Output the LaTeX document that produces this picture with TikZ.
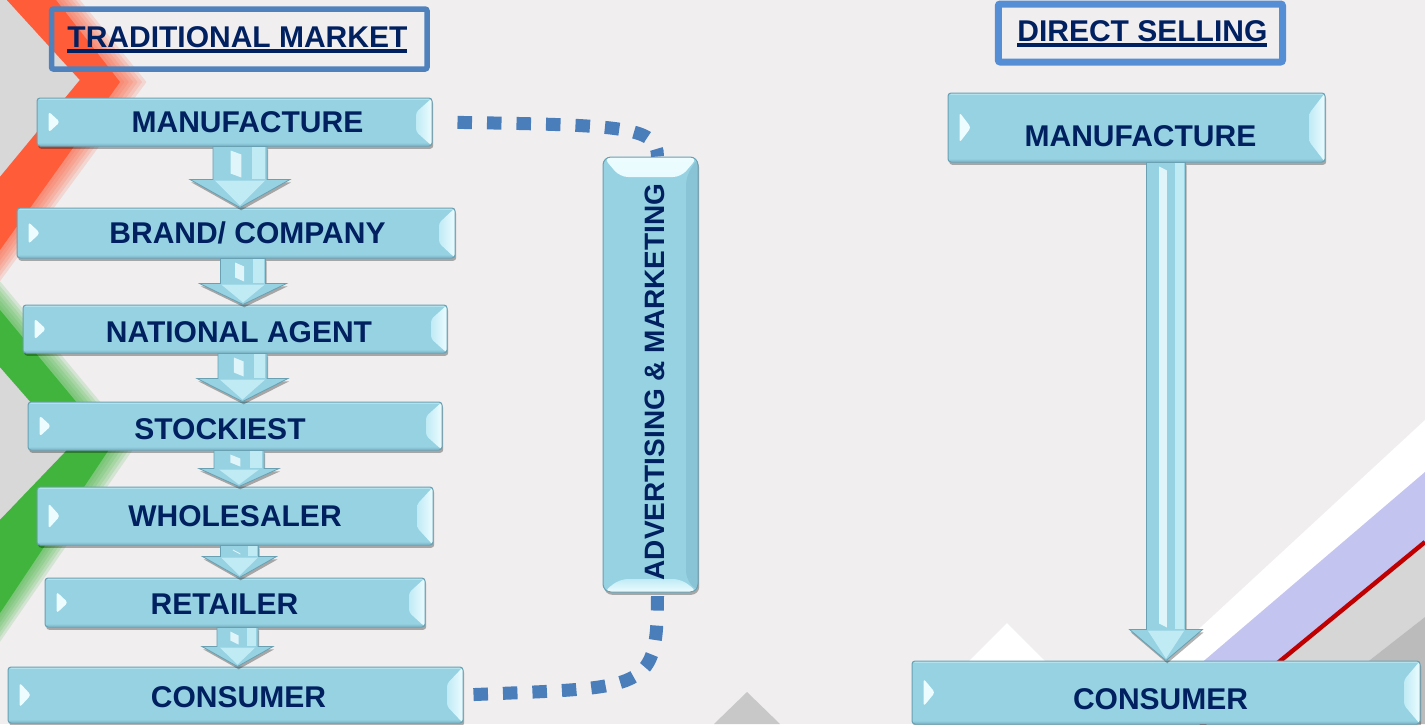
\documentclass[tikz,border=0pt]{standalone}
\usepackage{fontspec}
\setmainfont{Liberation Sans}
\usetikzlibrary{calc,shadows}
\definecolor{bgc}{RGB}{240,238,239}
\definecolor{boxfill}{RGB}{150,210,226}
\definecolor{boxedge}{RGB}{105,160,178}
\definecolor{boxhi}{RGB}{236,252,255}
\definecolor{boxbevel}{RGB}{192,235,245}
\definecolor{boxside}{RGB}{136,196,213}
\definecolor{navy}{RGB}{0,32,96}
\definecolor{dotblue}{RGB}{74,126,187}
\definecolor{titleL}{RGB}{79,129,189}
\definecolor{titleR}{RGB}{85,142,213}
\definecolor{orangeC}{RGB}{255,92,58}
\definecolor{greenC}{RGB}{64,180,60}
\definecolor{wedgegray}{RGB}{216,216,216}
\definecolor{lav}{RGB}{196,196,240}
\definecolor{redline}{RGB}{192,0,0}
\definecolor{lgray}{RGB}{214,214,214}
\definecolor{dgray}{RGB}{187,187,187}
\definecolor{midgray}{RGB}{200,200,200}
\newcommand\bx[3]{\hspace*{#1}\raisebox{#2}{#3}\hspace*{-#1}}
\newcommand\ulin[1]{\setbox0=\hbox{#1}\rlap{\copy0}\rule[-2.4pt]{\wd0}{1.7pt}}
\tikzset{
  myshadow/.style={drop shadow={shadow xshift=0.6pt, shadow yshift=-1.4pt, opacity=0.3, fill=black}},
  flowbox/.style={draw=boxedge, line width=0.5pt, fill=boxfill, rounded corners=1.5pt,
    text=navy, font=\bfseries\fontsize{15}{18}\selectfont, text height=10.74pt, text depth=0pt,
    inner sep=0pt, myshadow,
    path picture={
      \fill[boxhi] let \p1=(path picture bounding box.south west), \p2=(path picture bounding box.north east) in
        (\x1+5.75pt,{(\y1+\y2)/2+0.22*(\y2-\y1)}) -- (\x1+11.5pt,{(\y1+\y2)/2}) -- (\x1+5.75pt,{(\y1+\y2)/2-0.22*(\y2-\y1)}) -- cycle;
      \shade[left color=boxbevel, right color=boxhi] let \p1=(path picture bounding box.south west), \p2=(path picture bounding box.north east) in
        (\x2,\y2) -- (\x2,\y1) -- (\x2-8pt,{\y1+0.3*(\y2-\y1)}) -- (\x2-8pt,{\y2-0.3*(\y2-\y1)}) -- cycle;
      \fill[boxside] let \p1=(path picture bounding box.south west), \p2=(path picture bounding box.north east) in
        (\x1,\y1) rectangle (\x2,\y1+1.2pt);
      \fill[boxbevel] let \p1=(path picture bounding box.south west), \p2=(path picture bounding box.north east) in
        (\x1,\y2-0.8pt) rectangle (\x2,\y2);
    }},
  advbox/.style={draw=boxedge, line width=0.5pt, fill=boxfill, rounded corners=4pt,
    text=navy, font=\bfseries\fontsize{14}{16}\selectfont, inner sep=0pt, myshadow,
    path picture={
      \shade[top color=boxhi, bottom color=boxbevel] let \p1=(path picture bounding box.south west), \p2=(path picture bounding box.north east) in
        (\x1,\y2) -- (\x2,\y2) -- (\x2-8.5pt,\y2-10pt) -- (\x1+8.5pt,\y2-10pt) -- cycle;
      \shade[top color=boxbevel, bottom color=boxhi] let \p1=(path picture bounding box.south west), \p2=(path picture bounding box.north east) in
        (\x1,\y1) -- (\x2,\y1) -- (\x2-8.5pt,\y1+6.5pt) -- (\x1+8.5pt,\y1+6.5pt) -- cycle;
      \fill[boxside] let \p1=(path picture bounding box.south west), \p2=(path picture bounding box.north east) in
        (\x2,\y2) -- (\x2-6pt,\y2-10pt) -- (\x2-6pt,\y1+6.5pt) -- (\x2,\y1) -- cycle;
    }},
  titlebox/.style={rounded corners=1pt, text=navy, font=\bfseries\fontsize{15}{18}\selectfont,
    text height=10.74pt, text depth=0pt, inner sep=0pt},
  arrowbody/.style={fill=boxfill, draw=boxedge, line width=0.4pt, line join=miter, myshadow},
  arrowlite/.style={fill=boxbevel},
  arrowwhite/.style={fill=boxhi, opacity=0.85},
  dotline/.style={draw=dotblue, line width=6.5pt, dash pattern=on 7.25pt off 7.5pt}
}
\newcommand\flowarrow[5]{%
  \path[arrowbody] let \p1=#1, \p2=#2 in
    (\x1-#3,\y1) -- (\x1+#3,\y1) -- (\x1+#3,\y2+#5) -- (\x1+#4,\y2+#5) -- (\x1,\y2)
    -- (\x1-#4,\y2+#5) -- (\x1-#3,\y2+#5) -- cycle;
  \fill[arrowlite] let \p1=#1, \p2=#2 in
    (\x1+0.45*#3,\y1-0.3pt) rectangle (\x1+#3-1pt,\y2+#5+0.3pt);
  \fill[arrowwhite] let \p1=#1, \p2=#2 in
    (\x1-0.35*#3,\y1-2pt) -- (\x1+0.05*#3,\y1-4pt) -- (\x1+0.05*#3,\y2+#5+1pt) -- (\x1-0.35*#3,\y2+#5+3pt) -- cycle;
  \fill[boxbevel] let \p1=#1, \p2=#2 in
    (\x1-0.5*#4,\y2+#5-0.5pt) -- (\x1+0.5*#4,\y2+#5-0.5pt) -- (\x1,\y2+1pt) -- cycle;
}
\begin{document}
\begin{tikzpicture}[x=0.5pt,y=-0.5pt]
\useasboundingbox (0,0) rectangle (1425,724);
\fill[bgc] (0,0) rectangle (1425,724);
% left decorations
\fill[wedgegray] (0,0) -- (7,0) -- (80,80) -- (0,177) -- cycle;
\foreach \d in {24,20,16,12,8,4}{
  \fill[orangeC, opacity=.16] (7,0) -- ({56+\d},0) -- ({120+1.1*\d},82) -- (0,{250+1.3*\d}) -- (0,177) -- (80,80) -- cycle;
}
\fill[orangeC] (7,0) -- (56,0) -- (120,82) -- (0,250) -- (0,177) -- (80,80) -- cycle;
\fill[wedgegray] (0,367) -- (70,447) -- (0,520) -- cycle;
\foreach \d in {24,20,16,12,8,4}{
  \fill[greenC, opacity=.16] (0,{310-1.2*\d}) -- ({112+\d},445) -- (0,{613+1.2*\d}) -- (0,520) -- (70,447) -- (0,367) -- cycle;
}
\fill[greenC] (0,310) -- (112,445) -- (0,613) -- (0,520) -- (70,447) -- (0,367) -- cycle;
% right decorations
\fill[white] (1425,420) -- (1425,472) -- (1130,724) -- (1096,724) -- cycle;
\fill[lav] (1425,472) -- (1425,542) -- (1203,724) -- (1130,724) -- cycle;
\fill[lgray] (1425,542) -- (1425,617) -- (1288,724) -- (1203,724) -- cycle;
\fill[dgray] (1425,617) -- (1425,724) -- (1288,724) -- cycle;
\draw[redline, line width=2.2pt] (1425,542) -- (1201,726);
\fill[white] (1007,623) -- (1070,686) -- (944,686) -- cycle;
\fill[midgray] (747,692) -- (780,724) -- (714,724) -- cycle;
% titles
\node[titlebox, draw=titleL, line width=2.75pt, minimum width=187.75pt, minimum height=30pt] (tL) at (239.25,39) {\bx{-0.9pt}{1pt}{\ulin{TRADITIONAL MARKET}}};
\node[titlebox, draw=titleR, line width=3.5pt, minimum width=142.1pt, minimum height=29pt] (tR) at (1140.4,33) {\bx{1pt}{1pt}{\ulin{DIRECT SELLING}}};
% left chain
\node[flowbox, minimum width=197.5pt, minimum height=24pt] (m1) at (234.5,122) {\bx{6.5pt}{0pt}{MANUFACTURE}};
\node[flowbox, minimum width=219pt, minimum height=25pt] (b2) at (236,233) {\bx{5.75pt}{0pt}{BRAND/ COMPANY}};
\node[flowbox, minimum width=212pt, minimum height=24pt] (n3) at (235,329) {\bx{2pt}{-1.25pt}{NATIONAL AGENT}};
\node[flowbox, minimum width=207pt, minimum height=24pt] (s4) at (235,426) {\bx{-7.5pt}{-1.5pt}{STOCKIEST}};
\node[flowbox, minimum width=198pt, minimum height=29pt] (w5) at (235,516) {\bx{0pt}{0pt}{WHOLESALER}};
\node[flowbox, minimum width=190pt, minimum height=24.5pt] (r6) at (235,602.5) {\bx{-5.25pt}{-0.5pt}{RETAILER}};
\node[flowbox, minimum width=227.5pt, minimum height=28pt] (c7) at (235.5,695) {\bx{1.5pt}{-1pt}{CONSUMER}};
% advertising
\node[advbox, minimum width=47.5pt, minimum height=217.5pt] (adv) at (650.5,374.5)
  {\hspace*{2.25pt}\rotatebox{90}{\hspace*{-3.75pt}ADVERTISING \& MARKETING\hspace*{3.75pt}}\hspace*{-2.25pt}};
% right chain
\node[flowbox, minimum width=188.5pt, minimum height=34.5pt] (M2) at (1136.5,127.5) {\bx{2pt}{-4.25pt}{MANUFACTURE}};
\node[flowbox, minimum width=254pt, minimum height=31.5pt] (C2) at (1166,692.5) {\bx{-2.75pt}{-3pt}{CONSUMER}};
% arrows
\flowarrow{([xshift=2.75pt]m1.south)}{(b2.north)}{13.5pt}{25pt}{14pt}
\flowarrow{([xshift=3.5pt]b2.south)}{(n3.north)}{11.25pt}{21.75pt}{10.5pt}
\flowarrow{([xshift=3.75pt]n3.south)}{(s4.north)}{12.25pt}{22.75pt}{11.5pt}
\flowarrow{([xshift=2pt]s4.south)}{(w5.north)}{12.5pt}{20pt}{9pt}
\flowarrow{([xshift=2.25pt]w5.south)}{(r6.north)}{9.5pt}{18.5pt}{10.5pt}
\flowarrow{([xshift=1.25pt]r6.south)}{(c7.north)}{10.25pt}{17.75pt}{10pt}
\flowarrow{(C2.north |- M2.south)}{(C2.north)}{9.75pt}{18.25pt}{15.5pt}
% dotted connectors
\draw[dotline, shorten <=12.5pt] (m1.east) .. controls +(190,3) and +(0,-30) .. ([xshift=3.5pt]adv.north);
\draw[dotline, shorten <=5pt] (c7.east) .. controls +(185,-8) and +(0,100) .. ([xshift=3.5pt]adv.south);
\end{tikzpicture}
\end{document}
